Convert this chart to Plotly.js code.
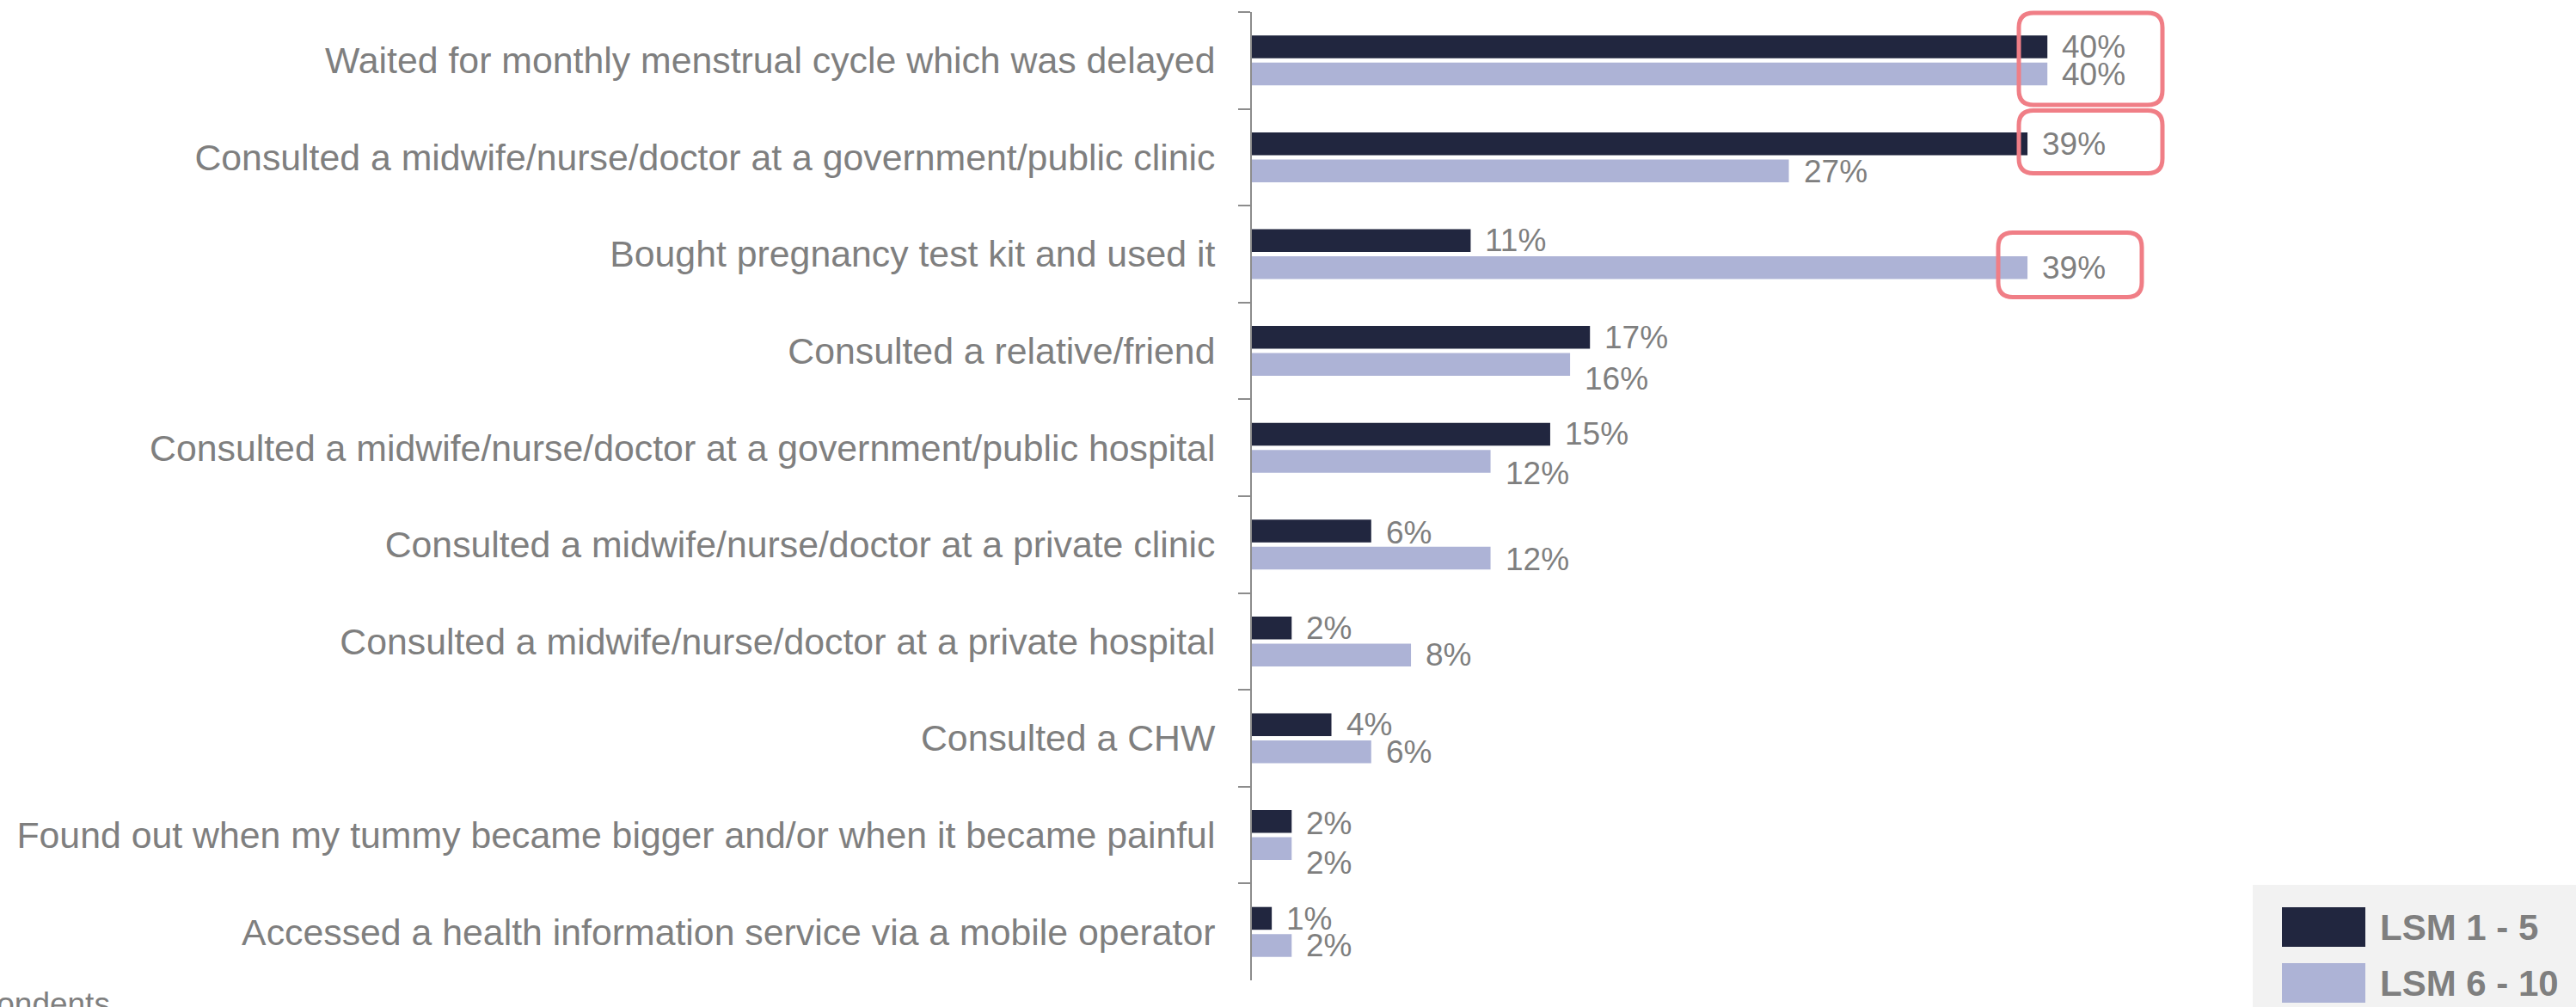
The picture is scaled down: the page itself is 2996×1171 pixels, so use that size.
<!DOCTYPE html>
<html>
<head>
<meta charset="utf-8">
<script src="https://cdn.plot.ly/plotly-3.0.1.min.js"></script>
<style>
  html, body { margin: 0; padding: 0; background: #ffffff; }
  #chart { width: 2996px; height: 1171px; }
</style>
</head>
<body>
<div id="chart"></div>
<script>
// ---------------- DATA ----------------
const categories = [
  "Waited for monthly menstrual cycle which was delayed",
  "Consulted a midwife/nurse/doctor at a government/public clinic",
  "Bought pregnancy test kit and used it",
  "Consulted a relative/friend",
  "Consulted a midwife/nurse/doctor at a government/public hospital",
  "Consulted a midwife/nurse/doctor at a private clinic",
  "Consulted a midwife/nurse/doctor at a private hospital",
  "Consulted a CHW",
  "Found out when my tummy became bigger and/or when it became painful",
  "Accessed a health information service via a mobile operator"
];
const seriesNames = ["LSM 1 - 5", "LSM 6 - 10"];
const lsm1to5  = [40, 39, 11, 17, 15, 6, 2, 4, 2, 1];
const lsm6to10 = [40, 27, 39, 16, 12, 12, 8, 6, 2, 2];
const footnoteText = "Base: All respondents";

// ---------------- STYLE ----------------
const colors = ["#21263f", "#adb3d6"];
const textGray = "#7f7f7f";
const highlightColor = "#f07e86";
const FONT = 'Arial, "Liberation Sans", sans-serif';

// label vertical nudges (px, positive = down), matching the reference's manual label placement
const labelNudge1 = [0, 0, 0, 0, 0, 2, 0, 0, 2, 1];
const labelNudge2 = [0, 1, 0, 17, 14, 1, 0, 0, 17, 0];

// layout geometry (pixels)
const W = 2996, H = 1171;
const plotL = 1456, plotT = 14, plotB = 1140;
const pxPerUnit = 23.13;
const plotR = 2612;
const plotW = plotR - plotL, plotH = plotB - plotT;
const xMax = plotW / pxPerUnit;
const barHalfOffset = 15.75;

function pX(px) { return (px - plotL) / plotW; }
function pY(py) { return (plotB - py) / plotH; }

function roundRectPath(x0, y0, x1, y1, r) {
  const pts = [
    ["M", x0 + r, y0], ["L", x1 - r, y0], ["Q", x1, y0, x1, y0 + r],
    ["L", x1, y1 - r], ["Q", x1, y1, x1 - r, y1], ["L", x0 + r, y1],
    ["Q", x0, y1, x0, y1 - r], ["L", x0, y0 + r], ["Q", x0, y0, x0 + r, y0]
  ];
  return pts.map(p => {
    const cmd = p[0];
    const nums = [];
    for (let i = 1; i < p.length; i += 2) nums.push(pX(p[i]).toFixed(5) + "," + pY(p[i + 1]).toFixed(5));
    return cmd + nums.join(" ");
  }).join(" ") + " Z";
}

// ---------------- TRACES ----------------
const traces = [lsm1to5, lsm6to10].map((vals, i) => ({
  type: "bar",
  orientation: "h",
  name: seriesNames[i],
  y: categories,
  x: vals,
  marker: { color: colors[i], line: { width: 0 } },
  hoverinfo: "x+y+name",
  showlegend: false
}));

// value labels via annotations (anchored to data coordinates)
const annotations = [];
[lsm1to5, lsm6to10].forEach((vals, s) => {
  const nudge = s === 0 ? labelNudge1 : labelNudge2;
  vals.forEach((v, i) => {
    annotations.push({
      xref: "x", yref: "y", x: v, y: categories[i],
      text: v + "%", showarrow: false,
      xanchor: "left", yanchor: "middle",
      xshift: 15,
      yshift: (s === 0 ? barHalfOffset : -barHalfOffset) - nudge[i],
      font: { family: FONT, size: 37, color: textGray }
    });
  });
});

// custom legend (big swatches like the reference)
const legendItems = [
  { name: seriesNames[0], color: colors[0], y0: 1055, y1: 1101, ty: 1078 },
  { name: seriesNames[1], color: colors[1], y0: 1120, y1: 1166, ty: 1143 }
];
const shapes = [];
shapes.push({
  type: "rect", xref: "paper", yref: "paper",
  x0: pX(2620), x1: pX(3000), y0: pY(1029), y1: pY(1175),
  fillcolor: "#f2f2f2", line: { width: 0 }, layer: "below"
});
legendItems.forEach(it => {
  shapes.push({
    type: "rect", xref: "paper", yref: "paper",
    x0: pX(2654), x1: pX(2751), y0: pY(it.y0), y1: pY(it.y1),
    fillcolor: it.color, line: { width: 0 }
  });
  annotations.push({
    xref: "paper", yref: "paper", x: pX(2766), y: pY(it.ty),
    xanchor: "left", yanchor: "middle", showarrow: false,
    text: "<b>" + it.name + "</b>",
    font: { family: FONT, size: 42, color: textGray }
  });
});

// highlight boxes (rounded, pinkish-red)
[[2348, 15, 2515, 122], [2348, 128.5, 2515, 201.5], [2324, 270.5, 2491, 345.5]].forEach(b => {
  shapes.push({
    type: "path", xref: "paper", yref: "paper",
    path: roundRectPath(b[0], b[1], b[2], b[3], 17),
    line: { color: highlightColor, width: 5 },
    fillcolor: "rgba(0,0,0,0)"
  });
});

// footnote (cut off at bottom-left as in the reference)
annotations.push({
  xref: "paper", yref: "paper", x: pX(130), y: pY(1144.5),
  xanchor: "right", yanchor: "top", showarrow: false,
  text: footnoteText,
  font: { family: FONT, size: 37, color: textGray }
});

const layout = {
  width: W, height: H,
  margin: { l: plotL, r: W - plotR, t: plotT, b: H - plotB, pad: 0 },
  paper_bgcolor: "#ffffff",
  plot_bgcolor: "rgba(0,0,0,0)",
  barmode: "group",
  bargap: 0.44,
  bargroupgap: 0.16,
  showlegend: false,
  font: { family: FONT, color: textGray },
  xaxis: {
    range: [0, xMax],
    visible: false,
    showgrid: false, zeroline: false
  },
  yaxis: {
    type: "category",
    range: [categories.length - 0.5, -0.5],
    showgrid: false, zeroline: false,
    showline: true, linecolor: "#8c8c8c", linewidth: 2,
    ticks: "outside", tickson: "boundaries", ticklen: 14,
    tickcolor: "#8c8c8c", tickwidth: 2,
    ticklabelstandoff: 32,
    tickfont: { family: FONT, size: 42.8, color: textGray }
  },
  shapes: shapes,
  annotations: annotations
};

Plotly.newPlot("chart", traces, layout, { displayModeBar: false, staticPlot: false });
</script>
</body>
</html>
